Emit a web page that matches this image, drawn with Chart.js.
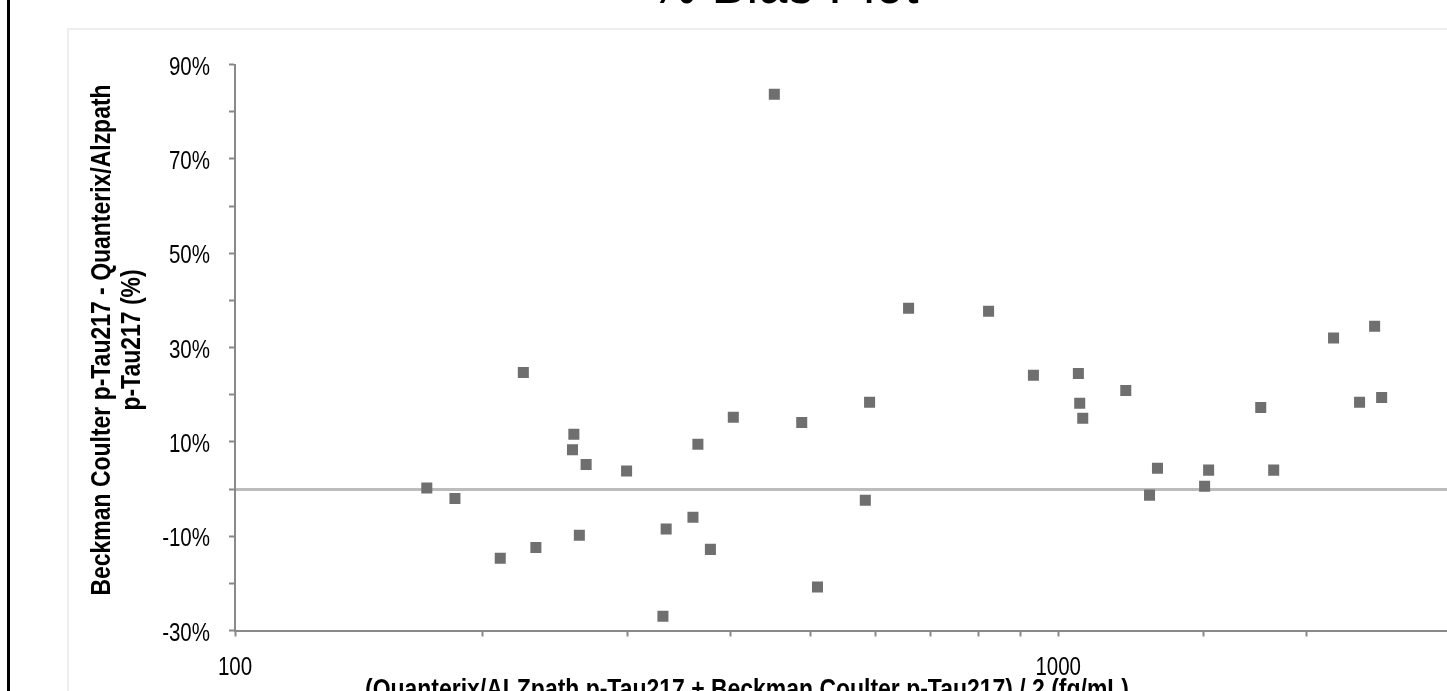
<!DOCTYPE html>
<html>
<head>
<meta charset="utf-8">
<title>% Bias Plot</title>
<script src="https://cdn.jsdelivr.net/npm/chart.js@4.4.1/dist/chart.umd.min.js"></script>
<style>
  html, body { margin: 0; padding: 0; background: #fff; overflow: hidden; width: 1447px; height: 691px; }
  #outer { position: absolute; left: 7px; top: -100px; width: 1700px; height: 900px; border-left: 3px solid #000; }
  #plotFrame { position: absolute; left: 67px; top: 28px; width: 1700px; height: 900px; border: 2px solid #eeeeee; }
  #chart { position: absolute; left: 10px; top: -41px; }
</style>
</head>
<body>
<div id="outer"></div>
<div id="plotFrame"></div>
<canvas id="chart" width="1549" height="750"></canvas>
<script>
// mean of the two assays (fg/mL) and % bias for each sample
const meanConc = [171, 185, 210, 224, 232, 257, 258, 262, 267, 299,
                  331, 334, 360, 365, 378, 403, 452, 488, 510, 583,
                  590, 658, 823, 933, 1058, 1062, 1071, 1208, 1291, 1320,
                  1506, 1523, 1762, 1827, 2160, 2323, 2423, 2471];
const biasPct = [0.2, -2.0, -14.7, 24.7, -12.4, 8.3, 11.6, -9.8, 5.2, 3.8,
                 -27.0, -8.5, -6.0, 9.5, -12.8, 15.2, 83.7, 14.1, -20.8, -2.4,
                 18.4, 38.3, 37.7, 24.1, 24.5, 18.2, 15.0, 20.9, -1.3, 4.4,
                 0.6, 4.0, 17.3, 4.0, 32.0, 18.4, 34.5, 19.4];

const xLabels = [100, 1000];
const yLabels = [90, 70, 50, 30, 10, -10, -30];

const TITLE = '% Bias Plot';
const Y_TITLE = ['Beckman Coulter p-Tau217 - Quanterix/Alzpath', 'p-Tau217 (%)'];
const X_TITLE = '(Quanterix/ALZpath p-Tau217 + Beckman Coulter p-Tau217) / 2 (fg/mL)';

const FONT = "'Liberation Sans', Arial, sans-serif";
const NARROW = 0.82;   // no Arial Narrow here, so squeeze Arial-metric text
const AXIS_GREY = '#898989';

function narrowText(ctx, text, x, y, align, font, rotate) {
    ctx.save();
    ctx.translate(x, y);
    if (rotate) ctx.rotate(-Math.PI / 2);
    ctx.scale(NARROW, 1);
    ctx.font = font;
    ctx.fillStyle = '#000';
    ctx.textAlign = align;
    ctx.textBaseline = 'alphabetic';
    ctx.fillText(text, 0, 0);
    ctx.restore();
}

// all text is drawn here so it can be condensed like the original
const textPlugin = {
    id: 'narrowLabels',
    afterDraw(chart) {
        const { ctx, chartArea, scales } = chart;
        const tickFont = '25px ' + FONT;
        const titleFont = 'bold 28px ' + FONT;

        yLabels.forEach((v) => {
            narrowText(ctx, v + '%', chartArea.left - 25, scales.y.getPixelForValue(v) + 10, 'right', tickFont);
        });
        xLabels.forEach((v) => {
            narrowText(ctx, String(v), scales.x.getPixelForValue(v), chartArea.bottom + 44.5, 'center', tickFont);
        });

        const midY = (chartArea.top + chartArea.bottom) / 2 - 7.5;
        narrowText(ctx, Y_TITLE[0], chartArea.left - 125, midY, 'center', titleFont, true);
        narrowText(ctx, Y_TITLE[1], chartArea.left - 95, midY, 'center', titleFont, true);

        narrowText(ctx, X_TITLE, chartArea.left + 512, chartArea.bottom + 67.5, 'center', titleFont);

        narrowText(ctx, TITLE, chart.width / 2, 44, 'center', '64px ' + FONT);
    }
};

const points = meanConc.map((x, i) => ({ x: x, y: biasPct[i] }));

new Chart(document.getElementById('chart'), {
    type: 'scatter',
    data: {
        datasets: [{
            label: '% bias',
            data: points,
            pointStyle: 'rect',
            pointRadius: 7.8,
            pointHoverRadius: 7.8,
            borderWidth: 0,
            backgroundColor: '#6f6f6f',
            borderColor: '#6f6f6f'
        }]
    },
    options: {
        responsive: false,
        animation: false,
        layout: { padding: { left: 77.3, right: 108, top: 105.5, bottom: 27.5 } },
        plugins: {
            legend: { display: false },
            tooltip: { enabled: false },
            title: { display: false }
        },
        scales: {
            x: {
                type: 'logarithmic',
                min: 100,
                max: 3000,
                afterFit: (scale) => { scale.height = 51; },
                border: { color: AXIS_GREY, width: 2 },
                grid: { drawOnChartArea: false, tickLength: 6, tickColor: AXIS_GREY, tickWidth: 2 },
                ticks: { display: false, autoSkip: false }
            },
            y: {
                min: -30,
                max: 90,
                afterFit: (scale) => { scale.width = 147.7; },
                border: { color: AXIS_GREY, width: 2 },
                grid: {
                    drawOnChartArea: true,
                    color: (c) => (c.tick && c.tick.value === 0 ? '#bcbcbc' : 'rgba(0,0,0,0)'),
                    lineWidth: (c) => (c.tick && c.tick.value === 0 ? 3 : 1),
                    tickLength: 6,
                    tickColor: AXIS_GREY,
                    tickWidth: 2
                },
                ticks: { display: false, stepSize: 10 }
            }
        }
    },
    plugins: [textPlugin]
});
</script>
</body>
</html>
